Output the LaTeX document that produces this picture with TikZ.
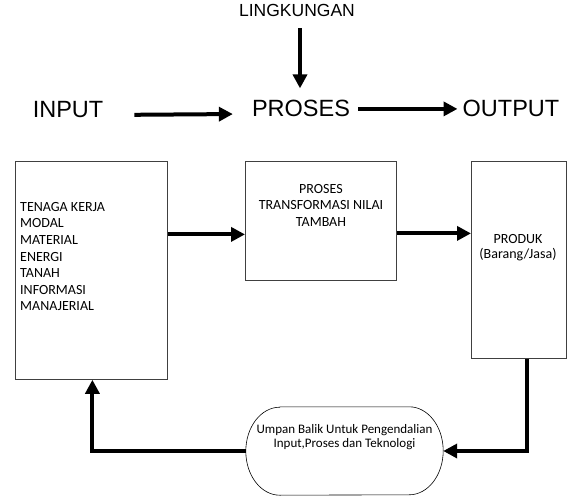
\documentclass[tikz,border=0pt]{standalone}
\usepackage{fontspec}
\setmainfont{Liberation Sans}
\newfontfamily\boxfont{Carlito}
\usetikzlibrary{arrows.meta}

\begin{document}
\begin{tikzpicture}[x=1pt, y=-1pt,
    bigarrow/.style={line width=4pt, -{Triangle[length=14pt, width=14pt]}},
    toplabel/.style={inner sep=0pt, anchor=base, font=\fontsize{23.5}{28}\selectfont},
    block/.style={draw=black!75, line width=0.8pt, anchor=north west},
    blocktext/.style={inner sep=0pt, anchor=north, align=center, font=\boxfont\fontsize{14}{16.6}\selectfont}]
    \useasboundingbox (0,0) rectangle (584,500);
    % Top row: input, proses, output
    \node[toplabel, font=\fontsize{17.5}{21}\selectfont] (lingkungan) at (297,17) {LINGKUNGAN};
    \node[toplabel] (input) at (68,118) {INPUT};
    \node[toplabel] (proses) at (301,117) {PROSES};
    \node[toplabel] (output) at (511,117) {OUTPUT};
    \draw[bigarrow, shorten <=11pt, shorten >=12pt] ([xshift=3pt]lingkungan.south) -- ([xshift=-1pt]proses.north);
    \draw[bigarrow, shorten <=31pt, shorten >=19pt] ([yshift=-5pt]input.east) -- ([yshift=-5pt]proses.west);
    \draw[bigarrow, shorten <=8pt, shorten >=5pt] (proses.east) -- (output.west);
    % Boxes
    \node[block, minimum width=152pt, minimum height=218pt] (inbox) at (15,161) {};
    \node[block, minimum width=151pt, minimum height=119pt] (tfbox) at (245,161) {};
    \node[block, minimum width=95pt, minimum height=197pt] (prbox) at (471,161) {};
    \node[blocktext, anchor=north west, align=left] (inlist) at (20,202)
        {TENAGA KERJA\\MODAL\\MATERIAL\\ENERGI\\TANAH\\INFORMASI\\MANAJERIAL};
    \node[blocktext] (tftext) at (321,184) {PROSES\\TRANSFORMASI NILAI\\TAMBAH};
    \node[blocktext, font=\boxfont\fontsize{14}{15.5}\selectfont] (prtext) at (518,234) {PRODUK\\(Barang/Jasa)};
    \draw[bigarrow] ([yshift=-13.5pt]tfbox.west -| inbox.east) -- ([yshift=-13.5pt]tfbox.west);
    \draw[bigarrow] ([yshift=-12.5pt]tfbox.east) -- ([yshift=-12.5pt]tfbox.east -| prbox.west);
    % Feedback loop
    \node[minimum width=197pt, minimum height=88pt, inner sep=0pt] (fb) at (344.5,451) {};
    \draw[line width=0.6pt] ([xshift=34pt]fb.north west) -- ([xshift=-34pt]fb.north east)
        arc[start angle=90, end angle=-90, x radius=34pt, y radius=44pt]
        -- ([xshift=34pt]fb.south west)
        arc[start angle=270, end angle=90, x radius=34pt, y radius=44pt] -- cycle;
    \node[blocktext, font=\boxfont\fontsize{13}{14}\selectfont] (fbtext) at (344.5,424.5)
        {Umpan Balik Untuk Pengendalian\\Input,Proses dan Teknologi};
    \draw[bigarrow] ([xshift=8.5pt]prbox.south) |- (fb.east);
    \draw[bigarrow] (fb.west) -| ([xshift=1pt]inbox.south);
\end{tikzpicture}
\end{document}
